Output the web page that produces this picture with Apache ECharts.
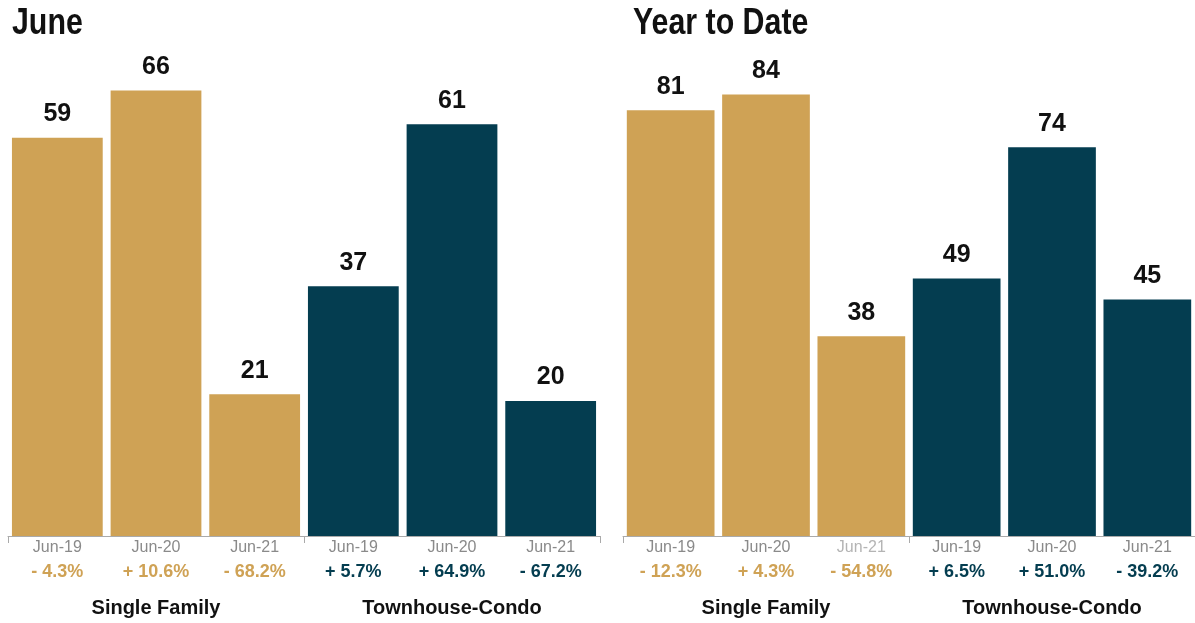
<!DOCTYPE html>
<html>
<head>
<meta charset="utf-8">
<script src="https://cdn.jsdelivr.net/npm/echarts@6/dist/echarts.min.js"></script>
<style>
  html, body { margin: 0; padding: 0; background: #fff; }
  #chart { width: 1195px; height: 623px; }
</style>
</head>
<body>
<div id="chart"></div>
<script>
const periods = ['Jun-19', 'Jun-20', 'Jun-21']
const groups = ['Single Family', 'Townhouse-Condo']
const panelTitles = ['June', 'Year to Date']

// June
const juneSingle = [59, 66, 21]
const juneTown = [37, 61, 20]
const juneSingleChg = ['- 4.3%', '+ 10.6%', '- 68.2%']
const juneTownChg = ['+ 5.7%', '+ 64.9%', '- 67.2%']

// Year to date
const ytdSingle = [81, 84, 38]
const ytdTown = [49, 74, 45]
const ytdSingleChg = ['- 12.3%', '+ 4.3%', '- 54.8%']
const ytdTownChg = ['+ 6.5%', '+ 51.0%', '- 39.2%']

const GOLD = '#CFA255'
const TEAL = '#043D50'
const FONT = '"Liberation Sans", Arial, Helvetica, sans-serif'

const categories = periods.concat(periods)

function barData(single, town) {
  return single.map(v => ({ value: v, itemStyle: { color: GOLD } }))
    .concat(town.map(v => ({ value: v, itemStyle: { color: TEAL } })))
}

function periodAxis(gridIndex, singleChg, townChg, lightIdx) {
  const changes = singleChg.concat(townChg)
  return {
    type: 'category',
    gridIndex: gridIndex,
    data: categories,
    position: 'bottom',
    axisLine: { show: false },
    axisTick: { show: false },
    axisLabel: {
      margin: 2,
      interval: 0,
      formatter: function(value, idx) {
        const d = idx === lightIdx ? 'dl' : 'd'
        const p = idx < 3 ? 'pg' : 'pt'
        return '{' + d + '|' + value + '}\n{' + p + '|' + changes[idx] + '}'
      },
      rich: {
        d: { fontFamily: FONT, fontSize: 16, color: '#8a8a8a', lineHeight: 20 },
        dl: { fontFamily: FONT, fontSize: 16, color: '#b4b4b4', lineHeight: 20 },
        pg: { fontFamily: FONT, fontSize: 18, fontWeight: 'bold', color: GOLD, lineHeight: 28 },
        pt: { fontFamily: FONT, fontSize: 18, fontWeight: 'bold', color: TEAL, lineHeight: 28 }
      }
    }
  }
}

function groupAxis(gridIndex) {
  return {
    type: 'category',
    gridIndex: gridIndex,
    data: groups,
    position: 'bottom',
    axisLine: { show: true, lineStyle: { color: '#aaaaaa', width: 1 } },
    axisTick: { show: true, length: 7, lineStyle: { color: '#aaaaaa' } },
    axisLabel: {
      margin: 62,
      fontFamily: FONT,
      fontSize: 20,
      fontWeight: 'bold',
      color: '#111'
    }
  }
}

function barSeries(axisIndex, single, town) {
  return {
    type: 'bar',
    xAxisIndex: axisIndex,
    yAxisIndex: axisIndex === 0 ? 0 : 1,
    data: barData(single, town),
    barCategoryGap: '8%',
    label: {
      show: true,
      position: 'top',
      distance: 11,
      fontFamily: FONT,
      fontSize: 25,
      fontWeight: 'bold',
      color: '#111'
    }
  }
}

// condensed bold heading, squeezed horizontally
function heading(text, x) {
  return {
    type: 'text',
    x: x,
    y: 5,
    scaleX: 0.82,
    style: {
      text: text,
      font: 'bold 37px "Liberation Sans", Arial, sans-serif',
      fill: '#111',
      verticalAlign: 'top'
    }
  }
}

const chart = echarts.init(document.getElementById('chart'))
chart.setOption({
  animation: false,
  graphic: [heading(panelTitles[0], 12), heading(panelTitles[1], 633)],
  grid: [
    { left: 8, top: 0, width: 592, height: 536 },
    { left: 623, top: 0, width: 577, height: 536 }
  ],
  xAxis: [
    periodAxis(0, juneSingleChg, juneTownChg, -1),
    periodAxis(1, ytdSingleChg, ytdTownChg, 2),
    groupAxis(0),
    groupAxis(1)
  ],
  yAxis: [
    { type: 'value', gridIndex: 0, min: 0, max: 79.4, show: false },
    { type: 'value', gridIndex: 1, min: 0, max: 102, show: false }
  ],
  series: [
    barSeries(0, juneSingle, juneTown),
    barSeries(1, ytdSingle, ytdTown)
  ]
})
</script>
</body>
</html>
